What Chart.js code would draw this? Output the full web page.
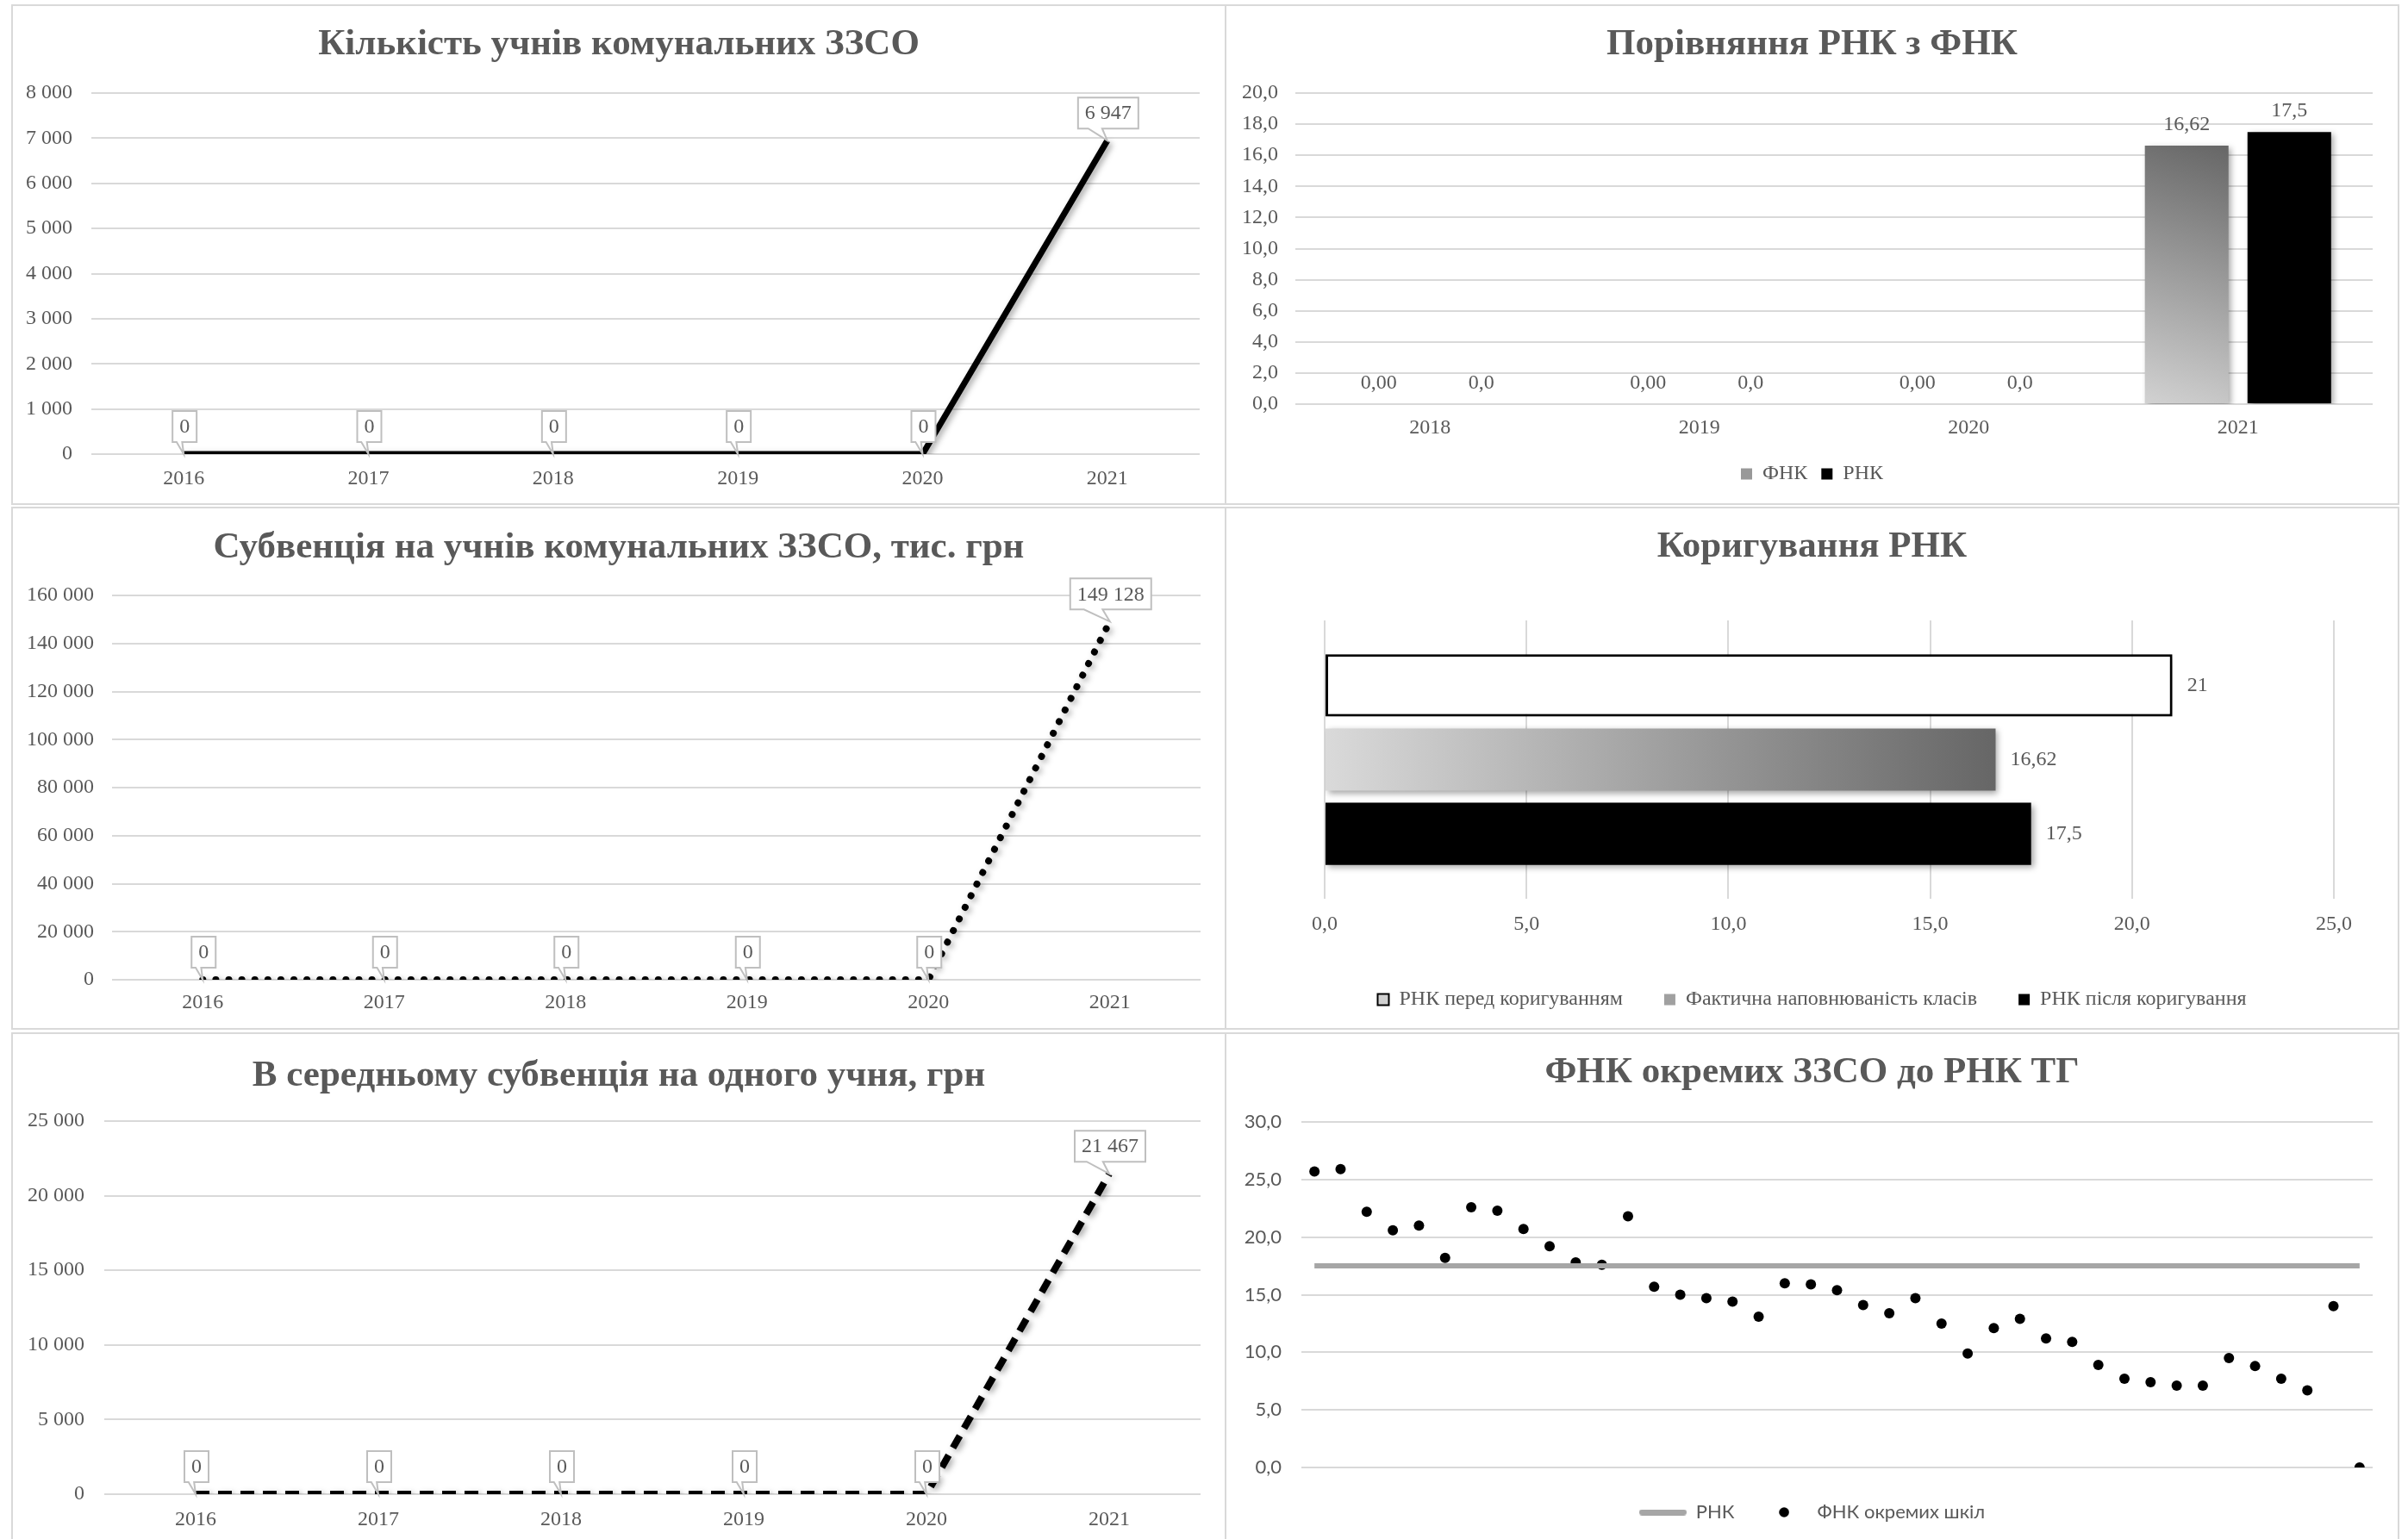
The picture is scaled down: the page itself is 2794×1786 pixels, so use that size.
<!DOCTYPE html>
<html>
<head>
<meta charset="utf-8">
<script src="https://cdn.jsdelivr.net/npm/chart.js@4.4.1/dist/chart.umd.min.js"></script>
<style>
  html, body { margin: 0; padding: 0; background: #fff; width: 2794px; height: 1786px; overflow: hidden; }
  .panel { position: absolute; box-sizing: border-box; border: 2px solid #d9d9d9; }
  .box { position: absolute; }
</style>
</head>
<body>
<div class="panel" style="left:13px;top:5px;width:1410px;height:581px"></div>
<div class="panel" style="left:1421px;top:5px;width:1363px;height:581px"></div>
<div class="panel" style="left:13px;top:588px;width:1410px;height:607px"></div>
<div class="panel" style="left:1421px;top:588px;width:1363px;height:607px"></div>
<div class="panel" style="left:13px;top:1198px;width:1410px;height:600px"></div>
<div class="panel" style="left:1421px;top:1198px;width:1363px;height:600px"></div>

<div class="box" style="left:13px;top:5px;width:1410px;height:581px"><canvas id="students"></canvas></div>
<div class="box" style="left:1421px;top:5px;width:1363px;height:581px"><canvas id="compare"></canvas></div>
<div class="box" style="left:13px;top:588px;width:1410px;height:607px"><canvas id="subvention"></canvas></div>
<div class="box" style="left:1421px;top:588px;width:1363px;height:607px"><canvas id="correction"></canvas></div>
<div class="box" style="left:13px;top:1198px;width:1410px;height:600px"><canvas id="perStudent"></canvas></div>
<div class="box" style="left:1421px;top:1198px;width:1363px;height:600px"><canvas id="schools"></canvas></div>

<script>
// --- data ---
const YEARS_LINE = ['2016', '2017', '2018', '2019', '2020', '2021'];
const STUDENTS = [0, 0, 0, 0, 0, 6947];
const SUBVENTION = [0, 0, 0, 0, 0, 149128];
const PER_STUDENT = [0, 0, 0, 0, 0, 21467];

const YEARS_BAR = ['2018', '2019', '2020', '2021'];
const FNK = [0, 0, 0, 16.62];
const RNK = [0, 0, 0, 17.5];

const CORR_LABELS = ['РНК перед коригуванням', 'Фактична наповнюваність класів', 'РНК після коригування'];
const CORR_VALUES = [21, 16.62, 17.5];

const SCHOOLS = ['1','2','3','4','5','6','7','8','9','10','11','12','13','14','15','16','17','18','19','20',
  '21','22','23','24','25','26','27','28','29','30','31','32','33','34','35','36','37','38','39','40','41'];
const SCHOOL_FNK = [25.7, 25.9, 22.2, 20.6, 21.0, 18.2, 22.6, 22.3, 20.7, 19.2, 17.8, 17.6, 21.8, 15.7, 15.0,
  14.7, 14.4, 13.1, 16.0, 15.9, 15.4, 14.1, 13.4, 14.7, 12.5, 9.9, 12.1, 12.9, 11.2, 10.9, 8.9, 7.7, 7.4,
  7.1, 7.1, 9.5, 8.8, 7.7, 6.7, 14.0, 0.0];
const RNK_TG = [17.5, 17.5, 17.5, 17.5, 17.5, 17.5, 17.5, 17.5, 17.5, 17.5, 17.5, 17.5, 17.5, 17.5, 17.5,
  17.5, 17.5, 17.5, 17.5, 17.5, 17.5, 17.5, 17.5, 17.5, 17.5, 17.5, 17.5, 17.5, 17.5, 17.5, 17.5, 17.5, 17.5,
  17.5, 17.5, 17.5, 17.5, 17.5, 17.5, 17.5, 17.5];

// --- look ---
const SERIF = "'Liberation Serif', 'Times New Roman', serif";
const SANS = "Lato, 'Noto Sans', sans-serif";
const TEXT = '#595959';
const GRID = '#d9d9d9';
const TITLE_SIZE = 43;
const TITLE_FONT = { family: SERIF, size: TITLE_SIZE, weight: 'bold', lineHeight: 1.2 };
const TICK_FONT = { family: SERIF, size: 24 };

function spaced(n) { return String(n).replace(/\B(?=(\d{3})+(?!\d))/g, ' '); }
function comma(n, d) { return Number(n).toFixed(d).replace('.', ','); }

const shadowPlugin = {
  id: 'shadow',
  beforeDatasetDraw(chart) {
    const c = chart.ctx;
    c.save();
    c.shadowColor = 'rgba(0,0,0,0.35)';
    c.shadowBlur = 7;
    c.shadowOffsetX = 3;
    c.shadowOffsetY = 3;
  },
  afterDatasetDraw(chart) { chart.ctx.restore(); }
};

// rectangular callouts pointing at each line point
const calloutPlugin = {
  id: 'callouts',
  afterDatasetsDraw(chart) {
    const ctx = chart.ctx;
    const meta = chart.getDatasetMeta(0);
    const data = chart.data.datasets[0].data;
    ctx.save();
    ctx.font = '24px ' + SERIF;
    ctx.textAlign = 'center';
    ctx.textBaseline = 'middle';
    meta.data.forEach((pt, i) => {
      const txt = spaced(data[i]);
      const w = ctx.measureText(txt).width + 16, h = 36;
      const cx = pt.x + 1, bottom = pt.y - 14, top = bottom - h;
      const left = cx - w / 2, right = cx + w / 2;
      ctx.beginPath();
      ctx.moveTo(left, top);
      ctx.lineTo(right, top);
      ctx.lineTo(right, bottom);
      ctx.lineTo(cx - 0.1 * w, bottom);
      ctx.lineTo(pt.x, pt.y);
      ctx.lineTo(cx - 0.33 * w, bottom);
      ctx.lineTo(left, bottom);
      ctx.closePath();
      ctx.fillStyle = '#fff';
      ctx.fill();
      ctx.strokeStyle = '#bfbfbf';
      ctx.lineWidth = 2;
      ctx.stroke();
      ctx.fillStyle = TEXT;
      ctx.fillText(txt, cx, (top + bottom) / 2 + 1);
    });
    ctx.restore();
  }
};

// value labels on bars
const barValuePlugin = {
  id: 'barValues',
  afterDatasetsDraw(chart) {
    const ctx = chart.ctx;
    const horizontal = chart.options.indexAxis === 'y';
    ctx.save();
    ctx.font = '24px ' + SERIF;
    ctx.fillStyle = TEXT;
    ctx.textBaseline = 'middle';
    chart.data.datasets.forEach((ds, di) => {
      chart.getDatasetMeta(di).data.forEach((el, i) => {
        const v = ds.data[i];
        const txt = ds.fmt === undefined ? String(v).replace('.', ',') : comma(v, ds.fmt);
        if (horizontal) {
          ctx.textAlign = 'left';
          ctx.fillText(txt, el.x + 17, el.y);
        } else {
          ctx.textAlign = 'center';
          ctx.fillText(txt, el.x, el.y - 24);
        }
      });
    });
    ctx.restore();
  }
};

// title centred at `center`, plot area starting at `plotTop` (canvas px)
function titleOpts(text, center, plotTop) {
  const top = center - TITLE_SIZE * 0.6;
  return {
    display: true, text: text, color: TEXT, font: TITLE_FONT,
    padding: { top: top, bottom: plotTop - top - TITLE_SIZE * 1.2 }
  };
}

// empty right-hand axis used only to reserve space on the right
function spacer(width) {
  return {
    axis: 'y', position: 'right', display: true,
    grid: { display: false, drawTicks: false },
    border: { display: false },
    ticks: { display: false },
    afterFit: s => { s.width = width; }
  };
}

function lineChart(id, values, max, step, o) {
  new Chart(document.getElementById(id), {
    type: 'line',
    data: {
      labels: YEARS_LINE,
      datasets: [{
        data: values,
        borderColor: '#000',
        borderWidth: o.width,
        borderDash: o.dash,
        borderCapStyle: o.cap,
        pointRadius: 0,
        tension: 0,
        fill: false
      }]
    },
    options: {
      responsive: true,
      maintainAspectRatio: false,
      animation: false,
      layout: { padding: { left: 0, right: 0, top: 0, bottom: 10 } },
      plugins: {
        legend: { display: false },
        tooltip: { enabled: false },
        title: titleOpts(o.title, o.tCenter, 103)
      },
      scales: {
        x: {
          offset: true,
          grid: { display: false, drawTicks: false },
          border: { display: false },
          ticks: { color: TEXT, font: TICK_FONT, padding: o.xPad },
          afterFit: s => { s.height = o.xH; }
        },
        y: {
          min: 0,
          max: max,
          grid: { color: GRID, lineWidth: 2, drawTicks: false },
          border: { display: false },
          ticks: { stepSize: step, color: TEXT, font: TICK_FONT, padding: o.yPad, callback: v => spaced(v) },
          afterFit: s => { s.width = o.yW; }
        },
        y2: spacer(o.rW)
      }
    },
    plugins: [shadowPlugin, calloutPlugin]
  });
}

lineChart('students', STUDENTS, 8000, 1000, {
  title: 'Кількість учнів комунальних ЗЗСО', tCenter: 47,
  width: 7, dash: [], cap: 'butt', yW: 93, rW: 31, xH: 49, xPad: 14, yPad: 22
});
lineChart('subvention', SUBVENTION, 160000, 20000, {
  title: 'Субвенція на учнів комунальних ЗЗСО, тис. грн', tCenter: 48,
  width: 8, dash: [0.1, 15], cap: 'round', yW: 117, rW: 30, xH: 48, xPad: 12, yPad: 21
});
lineChart('perStudent', PER_STUDENT, 25000, 5000, {
  title: 'В середньому субвенція на одного учня, грн', tCenter: 51,
  width: 8, dash: [16, 10], cap: 'butt', yW: 108, rW: 30, xH: 54, xPad: 15, yPad: 23
});

// --- ФНК vs РНК bars ---
function fnkFill(c) {
  const chart = c.chart;
  if (!chart.chartArea || typeof c.raw !== 'number' || c.raw === 0) return '#9a9a9a';
  const y = chart.scales.y, x = chart.scales.x;
  const cx = x.getPixelForValue(c.dataIndex) - 60;
  const g = chart.ctx.createLinearGradient(cx - 50, y.getPixelForValue(0), cx + 50, y.getPixelForValue(c.raw));
  g.addColorStop(0, '#d2d2d2');
  g.addColorStop(1, '#666666');
  return g;
}

new Chart(document.getElementById('compare'), {
  type: 'bar',
  data: {
    labels: YEARS_BAR,
    datasets: [
      { label: 'ФНК', data: FNK, backgroundColor: fnkFill, borderWidth: 0, fmt: 2 },
      { label: 'РНК', data: RNK, backgroundColor: '#000', borderWidth: 0, fmt: 1 }
    ]
  },
  options: {
    responsive: true,
    maintainAspectRatio: false,
    animation: false,
    layout: { padding: { left: 0, right: 0, top: 0, bottom: 14 } },
    datasets: { bar: { categoryPercentage: 0.762, barPercentage: 0.815 } },
    plugins: {
      tooltip: { enabled: false },
      title: titleOpts('Порівняння РНК з ФНК', 47, 103),
      legend: {
        position: 'bottom',
        labels: {
          boxWidth: 13, boxHeight: 13, padding: 16, color: TEXT, font: TICK_FONT,
          generateLabels: () => [
            { text: 'ФНК', fillStyle: '#999999', strokeStyle: '#999999', lineWidth: 0, datasetIndex: 0, fontColor: TEXT },
            { text: 'РНК', fillStyle: '#000000', strokeStyle: '#000000', lineWidth: 0, datasetIndex: 1, fontColor: TEXT }
          ]
        }
      }
    },
    scales: {
      x: {
        grid: { display: false, drawTicks: false },
        border: { display: false },
        ticks: { color: TEXT, font: TICK_FONT, padding: 13 },
        afterFit: s => { s.height = 53; }
      },
      y: {
        min: 0,
        max: 20,
        grid: { color: GRID, lineWidth: 2, drawTicks: false },
        border: { display: false },
        ticks: { stepSize: 2, color: TEXT, font: TICK_FONT, padding: 20, callback: v => comma(v, 1) },
        afterFit: s => { s.width = 82; }
      },
      y2: spacer(31)
    }
  },
  plugins: [shadowPlugin, barValuePlugin]
});

// --- Коригування РНК ---
function corrFill(c) {
  const chart = c.chart;
  if (!chart.chartArea || typeof c.raw !== 'number') return '#9a9a9a';
  const x = chart.scales.x;
  const g = chart.ctx.createLinearGradient(x.getPixelForValue(0), 0, x.getPixelForValue(c.raw), 0);
  g.addColorStop(0, '#dadada');
  g.addColorStop(1, '#666666');
  return g;
}

new Chart(document.getElementById('correction'), {
  type: 'bar',
  data: {
    labels: [''],
    datasets: [
      { label: CORR_LABELS[0], data: [CORR_VALUES[0]], backgroundColor: '#ffffff', borderColor: '#000', borderWidth: 3, borderSkipped: false },
      { label: CORR_LABELS[1], data: [CORR_VALUES[1]], backgroundColor: corrFill, borderWidth: 0 },
      { label: CORR_LABELS[2], data: [CORR_VALUES[2]], backgroundColor: '#000000', borderWidth: 0 }
    ]
  },
  options: {
    indexAxis: 'y',
    responsive: true,
    maintainAspectRatio: false,
    animation: false,
    layout: { padding: { left: 76, right: 76, top: 0, bottom: 13 } },
    datasets: { bar: { categoryPercentage: 0.8, barPercentage: 0.837 } },
    plugins: {
      tooltip: { enabled: false },
      title: titleOpts('Коригування РНК', 47, 132),
      legend: {
        position: 'bottom',
        labels: {
          boxWidth: 13, boxHeight: 13, padding: 48, color: TEXT, font: TICK_FONT,
          generateLabels: () => [
            { text: CORR_LABELS[0], fillStyle: '#d0d0d0', strokeStyle: '#000', lineWidth: 2, datasetIndex: 0, fontColor: TEXT },
            { text: CORR_LABELS[1], fillStyle: '#a0a0a0', strokeStyle: '#a0a0a0', lineWidth: 0, datasetIndex: 1, fontColor: TEXT },
            { text: CORR_LABELS[2], fillStyle: '#000000', strokeStyle: '#000000', lineWidth: 0, datasetIndex: 2, fontColor: TEXT }
          ]
        }
      }
    },
    scales: {
      x: {
        min: 0,
        max: 25,
        grid: { color: GRID, lineWidth: 2, drawTicks: false },
        border: { display: false },
        ticks: { stepSize: 5, color: TEXT, font: TICK_FONT, padding: 15, callback: v => comma(v, 1) },
        afterFit: s => { s.height = 57; }
      },
      y: {
        grid: { display: false, drawTicks: false },
        border: { display: false },
        ticks: { display: false },
        afterFit: s => { s.width = 40; }
      }
    }
  },
  plugins: [shadowPlugin, barValuePlugin]
});

// --- ФНК окремих ЗЗСО до РНК ТГ ---
const lineMark = document.createElement('canvas');
lineMark.width = 55; lineMark.height = 7;
(function () {
  const c = lineMark.getContext('2d');
  c.strokeStyle = '#a6a6a6'; c.lineWidth = 7; c.lineCap = 'round';
  c.beginPath(); c.moveTo(3.5, 3.5); c.lineTo(51.5, 3.5); c.stroke();
})();
const dotMark = document.createElement('canvas');
dotMark.width = 12; dotMark.height = 12;
(function () {
  const c = dotMark.getContext('2d');
  c.fillStyle = '#000';
  c.beginPath(); c.arc(6, 6, 5.8, 0, Math.PI * 2); c.fill();
})();

new Chart(document.getElementById('schools'), {
  type: 'line',
  data: {
    labels: SCHOOLS,
    datasets: [
      { label: 'РНК', data: RNK_TG, borderColor: '#a6a6a6', borderWidth: 6, pointRadius: 0, tension: 0 },
      { label: 'ФНК окремих шкіл', data: SCHOOL_FNK, showLine: false, pointRadius: 6,
        pointBackgroundColor: '#000', pointBorderWidth: 0, borderColor: '#000' }
    ]
  },
  options: {
    responsive: true,
    maintainAspectRatio: false,
    animation: false,
    layout: { padding: { left: 0, right: 0, top: 0, bottom: 22 } },
    plugins: {
      tooltip: { enabled: false },
      title: titleOpts('ФНК окремих ЗЗСО до РНК ТГ', 47, 104),
      legend: {
        position: 'bottom',
        labels: {
          usePointStyle: true, pointStyleWidth: 55, padding: 30, color: TEXT,
          font: { family: SANS, size: 22 },
          generateLabels: () => [
            { text: 'РНК', pointStyle: lineMark, fillStyle: '#a6a6a6', strokeStyle: '#a6a6a6', lineWidth: 0, datasetIndex: 0, fontColor: TEXT },
            { text: 'ФНК окремих шкіл', pointStyle: dotMark, fillStyle: '#000', strokeStyle: '#000', lineWidth: 0, datasetIndex: 1, fontColor: TEXT }
          ]
        }
      }
    },
    scales: {
      x: {
        offset: true,
        grid: { display: false, drawTicks: false },
        border: { display: false },
        ticks: { display: false },
        afterFit: s => { s.height = 11; }
      },
      y: {
        min: 0,
        max: 30,
        grid: { color: GRID, lineWidth: 2, drawTicks: false },
        border: { display: false },
        ticks: { stepSize: 5, color: TEXT, font: { family: SANS, size: 22 }, padding: 23, callback: v => comma(v, 1) },
        afterFit: s => { s.width = 89; }
      },
      y2: spacer(31)
    }
  }
});
</script>
</body>
</html>
